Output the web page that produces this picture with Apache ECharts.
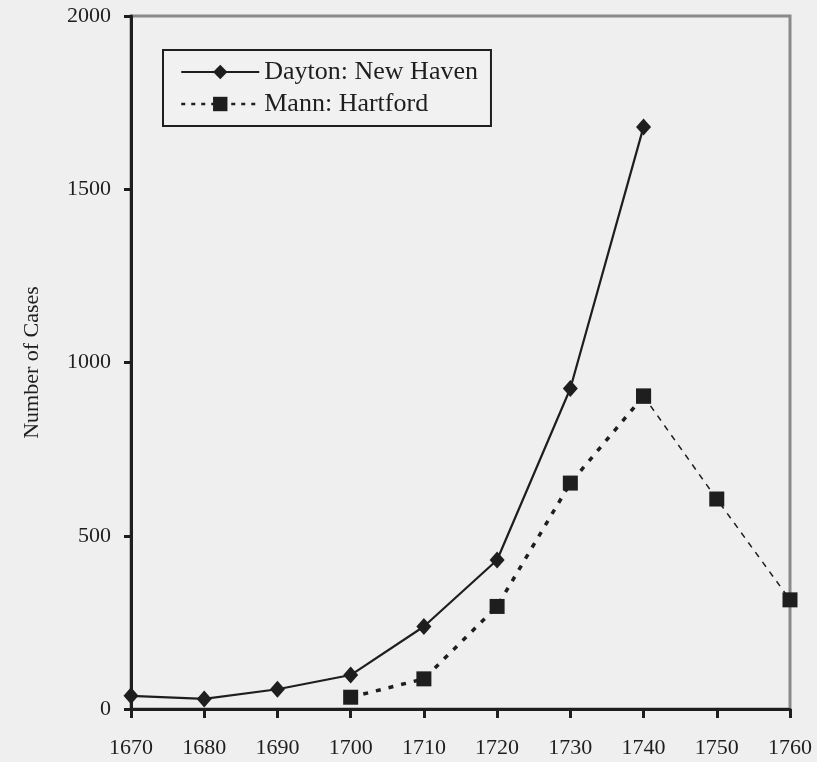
<!DOCTYPE html>
<html>
<head>
<meta charset="utf-8">
<script src="https://cdn.jsdelivr.net/npm/echarts@6/dist/echarts.min.js"></script>
<style>
html,body{margin:0;padding:0;background:#efefef;}
#chart{width:817px;height:762px;}
</style>
</head>
<body>
<div id="chart"></div>
<script>
var years = [1670, 1680, 1690, 1700, 1710, 1720, 1730, 1740, 1750, 1760];
var daytonYears = [1670, 1680, 1690, 1700, 1710, 1720, 1730, 1740];
var daytonValues = [38, 29, 57, 98, 238, 430, 925, 1680];
var mannYears = [1700, 1710, 1720, 1730, 1740, 1750, 1760];
var mannValues = [34, 87, 296, 652, 903, 606, 315];
var yTicks = [0, 500, 1000, 1500, 2000];

function pairs(xs, ys) { return xs.map(function (x, i) { return [x, ys[i]]; }); }
var dayton = pairs(daytonYears, daytonValues);
var mann = pairs(mannYears, mannValues);
var split = mannYears.indexOf(1740);
var mannA = mann.slice(0, split + 1);
var mannB = mann.slice(split);

var FONT = 'Liberation Serif';
var INK = '#1e1e1e';

var chart = echarts.init(document.getElementById('chart'));
chart.setOption({
  backgroundColor: '#efefef',
  animation: false,
  grid: {
    left: 131, right: 27, top: 16, bottom: 53,
    show: true, borderColor: '#8a8a8a', borderWidth: 3, backgroundColor: 'transparent'
  },
  legend: {
    left: 163, top: 50,
    orient: 'vertical',
    backgroundColor: '#f1f1f1',
    borderColor: INK, borderWidth: 2, borderRadius: 0,
    padding: [9, 13, 9, 17],
    itemGap: 6,
    itemWidth: 78, itemHeight: 18,
    textStyle: { fontFamily: FONT, fontSize: 26, lineHeight: 26, color: INK },
    data: [
      { name: 'Dayton: New Haven', lineStyle: { type: 'solid', width: 2, color: INK } },
      { name: 'Mann: Hartford', lineStyle: { type: [4, 6], width: 2.5, color: INK } }
    ]
  },
  xAxis: {
    type: 'value', min: 1670, max: 1760, interval: 10,
    axisLine: { show: true, onZero: false, lineStyle: { color: INK, width: 3 } },
    axisTick: { show: true, inside: false, length: 9, lineStyle: { color: INK, width: 3 } },
    axisLabel: { margin: 28, fontFamily: FONT, fontSize: 22, color: INK, formatter: function (v) { return String(v); } },
    splitLine: { show: false }
  },
  yAxis: {
    type: 'value', min: yTicks[0], max: yTicks[yTicks.length - 1], interval: 500,
    name: 'Number of Cases', nameLocation: 'middle', nameGap: 88, nameRotate: 90,
    nameTextStyle: { fontFamily: FONT, fontSize: 22, color: INK },
    axisLine: { show: true, lineStyle: { color: INK, width: 3 } },
    axisTick: { show: true, inside: false, length: 7, lineStyle: { color: INK, width: 3 } },
    axisLabel: { margin: 20, fontFamily: FONT, fontSize: 22, color: INK, formatter: function (v) { return String(v); } },
    splitLine: { show: false }
  },
  series: [
    {
      name: 'Dayton: New Haven', type: 'line', data: dayton,
      symbol: 'diamond', symbolSize: [15, 17], showSymbol: true,
      lineStyle: { color: INK, width: 2.2 },
      itemStyle: { color: INK }
    },
    {
      name: 'Mann: Hartford', type: 'line', data: mannA,
      symbol: 'rect', symbolSize: 15,
      lineStyle: { color: INK, width: 3.5, type: [5, 8] },
      itemStyle: { color: INK }
    },
    {
      name: 'Mann: Hartford', type: 'line', data: mannB,
      symbol: 'rect', symbolSize: 15,
      lineStyle: { color: INK, width: 1.5, type: [6, 6] },
      itemStyle: { color: INK }
    }
  ]
});
</script>
</body>
</html>
